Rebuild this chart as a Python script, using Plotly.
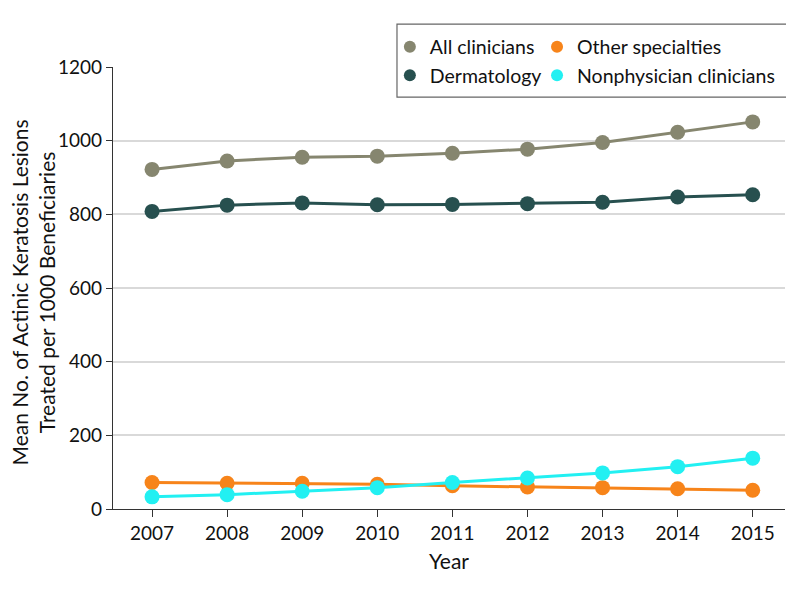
import plotly.graph_objects as go

years = [2007, 2008, 2009, 2010, 2011, 2012, 2013, 2014, 2015]
all_clinicians = [922, 945, 955, 958, 966, 977, 995, 1023, 1051]
dermatology = [808, 825, 831, 826, 827, 829, 833, 847, 853]
other_specialties = [72, 70, 70, 67, 63, 60, 58, 55, 51]
nonphysician = [33, 39, 48, 58, 72, 84, 98, 115, 138]

series = [
    ("All clinicians", all_clinicians, "#86866f", "legend"),
    ("Dermatology", dermatology, "#27504f", "legend"),
    ("Other specialties", other_specialties, "#f7841a", "legend2"),
    ("Nonphysician clinicians", nonphysician, "#22f0f2", "legend2"),
]

FONT = "Lato"
fig = go.Figure()
for name, vals, color, leg in series:
    fig.add_trace(go.Scatter(
        x=years, y=vals, name=name, mode="lines+markers",
        line=dict(color=color, width=3),
        marker=dict(color=color, size=15),
        showlegend=False, legendgroup=name,
    ))
# legend entries: circle symbols only, as in the original key
for name, vals, color, leg in series:
    fig.add_trace(go.Scatter(
        x=[None], y=[None], name=name, mode="markers",
        marker=dict(color=color, size=15),
        legend=leg, legendgroup=name, showlegend=True,
    ))

leg_common = dict(
    orientation="v", yanchor="top", xanchor="left",
    bgcolor="rgba(0,0,0,0)", borderwidth=0,
    font=dict(family=FONT, size=19.5, color="#111"),
    itemsizing="constant", tracegroupgap=0,
)

fig.update_layout(
    width=794, height=591,
    margin=dict(l=105, r=17, t=59, b=90, autoexpand=False),
    paper_bgcolor="white", plot_bgcolor="white",
    font=dict(family=FONT, size=18, color="#111"),
    showlegend=True,
    legend=dict(x=0.412, y=1.089, **leg_common),
    legend2=dict(x=0.631, y=1.089, **leg_common),
    shapes=[dict(type="rect", xref="paper", yref="paper",
                 x0=0.4226, x1=1.0045, y0=0.932, y1=1.097,
                 line=dict(color="#666", width=1.2), fillcolor="white",
                 layer="above")],
    annotations=[dict(
        text="Mean No. of Actinic Keratosis Lesions<br>Treated per 1000 Beneficiaries",
        xref="paper", yref="paper", x=-0.119, y=0.49,
        xanchor="center", yanchor="middle", textangle=-90, showarrow=False,
        font=dict(family=FONT, size=21, color="#111"),
    )],
    xaxis=dict(
        range=[2006.48, 2015.43], tickvals=years, ticktext=[str(y) for y in years],
        showline=True, linecolor="#333", linewidth=1.2,
        ticks="outside", ticklen=7, tickcolor="#333",
        showgrid=False, zeroline=False, automargin=False,
        title=dict(text="Year", font=dict(size=21), standoff=11),
        tickfont=dict(size=19),
    ),
    yaxis=dict(
        range=[0, 1200], tickvals=[0, 200, 400, 600, 800, 1000, 1200],
        showline=True, linecolor="#333", linewidth=1.2,
        ticks="outside", ticklen=6, tickcolor="#333",
        showgrid=True, gridcolor="#d9d9d9", gridwidth=1.5, zeroline=False,
        automargin=False,
        tickfont=dict(size=19),
    ),
)

fig.write_html("out.html")
